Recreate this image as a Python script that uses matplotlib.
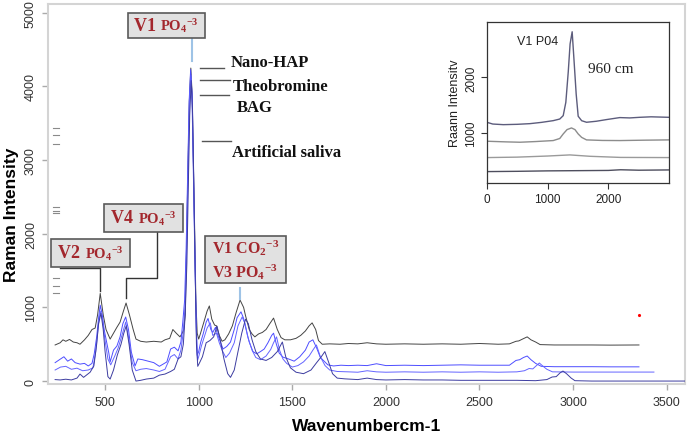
import matplotlib
matplotlib.use("Agg")
import matplotlib.pyplot as plt
from matplotlib.offsetbox import TextArea, HPacker, VPacker, AnnotationBbox
from matplotlib.patches import Rectangle

plt.rcParams['mathtext.fontset'] = 'custom'
plt.rcParams['mathtext.rm'] = 'Liberation Serif:bold'
plt.rcParams['mathtext.it'] = 'Liberation Serif:bold:italic'
plt.rcParams['mathtext.bf'] = 'Liberation Serif:bold'
plt.rcParams['font.family'] = ['Liberation Sans', 'DejaVu Sans']

# ---------------- main spectra ----------------
black_x = [233, 260, 275, 290, 310, 330, 350, 366, 390, 410, 430, 447, 460, 474, 490, 505, 527, 545, 563, 580,
           598, 612, 630, 650, 665, 690, 720, 760, 800, 820, 845, 862, 880, 900, 912, 920, 928, 935, 942, 950,
           958, 965, 972, 979, 985, 992, 1000, 1010, 1030, 1045, 1057, 1070, 1085, 1095, 1110, 1125, 1140, 1160,
           1180, 1200, 1221, 1240, 1250, 1270, 1285, 1300, 1320, 1340, 1360, 1380, 1400, 1420, 1440, 1460,
           1490, 1520, 1545, 1570, 1590, 1606, 1625, 1640, 1660, 1700, 1755, 1800, 1850, 1900, 1950, 2000,
           2100, 2200, 2300, 2400, 2500, 2600, 2660, 2695, 2710, 2730, 2755, 2775, 2800, 2824, 2900, 3000,
           3100, 3200, 3352]
black_y = [490, 520, 560, 540, 565, 530, 520, 500, 560, 620, 700, 720, 900, 1190, 900, 700, 570, 650, 730, 800,
           950, 1060, 900, 700, 570, 540, 530, 540, 530, 560, 580, 700, 650, 600, 650, 700, 900, 1800, 2800, 3800,
           4250, 3900, 2900, 2000, 1100, 650, 570, 650, 820, 950, 1020, 840, 760, 750, 620, 540, 560, 640,
           750, 930, 1100, 1000, 890, 700, 640, 600, 640, 660, 700, 780, 855, 700, 590, 560,
           560, 580, 620, 680, 750, 790, 700, 550, 500, 505, 500, 510, 505, 520, 505, 500,
           505, 500, 505, 500, 510, 500, 505, 540, 545, 570, 600, 560, 530, 495, 490, 490,
           490, 488, 490]

blue1_x = [233, 262, 280, 300, 320, 340, 366, 390, 410, 430, 442, 455, 465, 474, 485, 495, 505, 520, 527, 545,
           563, 580, 595, 610, 625, 640, 660, 675, 700, 730, 760, 790, 810, 830, 850, 870, 890, 905, 915, 925,
           933, 941, 949, 957, 964, 971, 978, 985, 992, 1000, 1010, 1025, 1040, 1050, 1065, 1075, 1090, 1100,
           1115, 1130, 1150, 1170, 1190, 1205, 1226, 1240, 1250, 1270, 1290, 1310, 1330, 1350, 1370, 1390,
           1400, 1415, 1430, 1450, 1480, 1510, 1540, 1570, 1590, 1610, 1630, 1650, 1670, 1690, 1720, 1760,
           1800, 1850, 1900, 1950, 2000, 2100, 2200, 2300, 2400, 2500, 2600, 2660, 2695, 2715, 2735, 2755,
           2775, 2800, 2830, 2900, 3000, 3100, 3200, 3352]
blue1_y = [250, 300, 330, 270, 300, 250, 230, 240, 205, 240, 370, 600, 850, 1030, 900, 700, 570, 380, 260, 420,
           475, 600, 780, 870, 700, 395, 205, 300, 290, 270, 250, 200, 230, 260, 435, 460, 410, 530, 800, 1100,
           1800, 2800, 3800, 4230, 3900, 2900, 1900, 1000, 350, 400, 520, 650, 800, 850, 700, 660, 730, 640,
           540, 435, 470, 530, 700, 860, 940, 850, 735, 530, 400, 370, 400, 435, 520, 620,
           650, 500, 380, 325, 300, 270, 330, 420, 530, 560, 450, 320, 270, 220, 205, 215,
           210, 215, 210, 235, 210, 215, 210, 215, 220, 215, 215, 215, 280, 290, 320, 340,
           290, 240, 200, 195, 195, 195, 193, 193]

blue2_x = [233, 262, 290, 320, 350, 380, 410, 435, 450, 462, 474, 486, 500, 515, 530, 550, 570, 590, 610, 625,
           645, 665, 690, 720, 760, 790, 820, 850, 870, 890, 905, 917, 927, 935, 943, 951, 959, 966, 973, 980,
           987, 994, 1002, 1015, 1030, 1045, 1062, 1075, 1095, 1110, 1125, 1145, 1165, 1190, 1210, 1232, 1248,
           1262, 1285, 1305, 1330, 1360, 1385, 1400, 1416, 1432, 1450, 1470, 1500, 1530, 1560, 1590, 1610,
           1629, 1650, 1675, 1700, 1740, 1800, 1850, 1900, 1950, 2000, 2100, 2200, 2300, 2400, 2500, 2600,
           2700, 2740, 2765, 2785, 2800, 2820, 2840, 2860, 2890, 3000, 3100, 3200, 3300, 3432]
blue2_y = [150, 190, 200, 160, 175, 140, 150, 180, 400, 700, 950, 830, 550, 300, 220, 330, 450, 620, 800, 600,
           250, 140, 160, 170, 150, 130, 160, 330, 360, 300, 420, 650, 1000, 1700, 2800, 3800, 4150, 3800, 2800, 1700,
           700, 280, 350, 480, 600, 720, 790, 620, 650, 520, 420, 320, 380, 520, 750, 870, 780,
           600, 420, 320, 290, 340, 430, 520, 600, 420, 300, 240, 190, 210, 260, 340, 420,
           490, 330, 210, 150, 130, 125, 120, 140, 125, 120, 125, 120, 125, 120, 125, 120,
           125, 140, 170, 165, 200, 245, 200, 160, 125, 122, 122, 122, 122, 122]

blue3_x = [233, 260, 290, 320, 350, 366, 385, 400, 420, 440, 455, 465, 478, 490, 500, 515, 527, 545, 565, 585,
           600, 613, 628, 645, 665, 690, 720, 760, 790, 820, 850, 870, 890, 905, 918, 928, 937, 945, 952, 960,
           967, 974, 981, 988, 995, 1005, 1020, 1040, 1060, 1080, 1098, 1115, 1135, 1155, 1170, 1190, 1210,
           1230, 1250, 1265, 1285, 1305, 1330, 1360, 1390, 1420, 1447, 1465, 1490, 1520, 1560, 1600, 1630,
           1655, 1674, 1695, 1715, 1740, 1780, 1850, 1900, 1950, 2000, 2100, 2200, 2300, 2400, 2500, 2600,
           2700, 2800, 2860, 2888, 2910, 2930, 2946, 2965, 2990, 3010, 3100, 3200, 3300, 3400, 3500, 3600]
blue3_y = [20, 15, 25, 15, 40, 95, 50, 80, 120, 205, 500, 780, 920, 700, 400, 60, 27, 150, 350, 500,
           650, 750, 500, 150, 0, 10, 27, 40, 80, 95, 130, 160, 300, 330, 500, 900, 1600, 2700, 3600, 4080,
           3700, 2700, 1500, 500, 200, 250, 330, 520, 550, 600, 745, 560, 300, 100, 50, 150, 400,
           650, 840, 780, 560, 400, 300, 280, 320, 400, 530, 330, 180, 120, 100, 150, 250,
           330, 400, 250, 100, 40, 30, 20, 40, 20, 15, 20, 15, 15, 10, 10, 10,
           10, 5, 20, 55, 60, 110, 136, 100, 40, 5, 0, 0, 0, 0, 0, 0]

x_ticks = [500, 1000, 1500, 2000, 2500, 3000, 3500]
y_ticks = [0, 1000, 2000, 3000, 4000, 5000]
legend_names = ['Nano-HAP', 'Theobromine', 'BAG', 'Artificial saliva']

# ---------------- inset spectra ----------------
in1_x = [0, 100, 273, 500, 710, 900, 1093, 1200, 1257, 1300, 1340, 1370, 1404, 1435, 1470, 1503, 1560, 1640,
         1800, 1967, 2186, 2350, 2514, 2700, 2995]
in1_y = [1192, 1160, 1149, 1155, 1167, 1190, 1221, 1250, 1311, 1550, 2100, 2600, 2819, 2300, 1700, 1300, 1220,
         1192, 1210, 1240, 1276, 1270, 1281, 1290, 1281]
in2_x = [0, 300, 546, 800, 1093, 1200, 1257, 1320, 1393, 1450, 1503, 1560, 1640, 1900, 2186, 2600, 2995]
in2_y = [851, 840, 833, 845, 863, 900, 982, 1060, 1090, 1060, 982, 920, 875, 865, 863, 870, 875]
in3_x = [0, 500, 1000, 1366, 1700, 2200, 2995]
in3_y = [557, 565, 585, 605, 580, 560, 557]
in4_x = [0, 500, 1000, 1500, 2000, 2200, 2500, 2995]
in4_y = [305, 310, 318, 322, 326, 338, 330, 335]
inset_xticks = [0, 1000, 2000]
inset_yticks = [1000, 2000]

# ---------------- figure ----------------
fig = plt.figure(figsize=(6.92, 4.35), dpi=100)
ax = fig.add_axes([48 / 692, 50 / 435, 637 / 692, 380 / 435])

ax.plot(black_x, black_y, color='#444444', lw=0.7, zorder=2)
ax.plot(blue1_x, blue1_y, color='#4d4dff', lw=0.7, zorder=3)
ax.plot(blue2_x, blue2_y, color='#6464ff', lw=0.7, zorder=3)
ax.plot(blue3_x, blue3_y, color='#3c3ca0', lw=0.7, zorder=3)
ax.plot([3353], [897], marker='.', color='red', ms=2.5, ls='none')

ax.set_xlim(195, 3598)
ax.set_ylim(-40, 5120)
ax.set_xticks(x_ticks)
ax.set_yticks(y_ticks)
ax.set_xticklabels([str(v) for v in x_ticks], fontsize=9, color='#333333')
ax.set_yticklabels([str(v) for v in y_ticks], fontsize=9, color='#333333', rotation=90, va='center')
ax.tick_params(axis='both', length=4, width=1, color='#aaaaaa', direction='out')
ax.tick_params(axis='x', pad=5)
ax.tick_params(axis='y', pad=4)
for s in ax.spines.values():
    s.set_color('#d4d4d4')
    s.set_linewidth(1.5)

fig.text(12 / 692, 1 - 215 / 435, 'Raman Intensity', rotation=90, fontsize=12.5, fontweight='bold',
         ha='center', va='center')
fig.text(367 / 692, 1 - 427 / 435, 'Wavenumbercm-1', fontsize=12.5, fontweight='bold',
         ha='center', va='center')

# small leftover dashes on the left
for yy in [3436, 3341, 3219, 2364, 2309, 2282, 1399, 1291, 1196]:
    ax.plot([222, 255], [yy, yy], color='#8a8a8a', lw=0.8)

# annotation boxes
red = '#a3272d'
box_fc = '#e1e1e1'
box_ec = '#5a5a5a'


def box(x0, x1, y0, y1):
    ax.add_patch(Rectangle((x0, y0), x1 - x0, y1 - y0, transform=ax.transData, fc=box_fc, ec=box_ec,
                           lw=1.2, clip_on=False, zorder=5))


def label(parts, xc, yc):
    rows = []
    for row in parts:
        areas = [TextArea(t, textprops=dict(color=red, fontsize=fs, family='Liberation Serif',
                                            fontweight='bold')) for t, fs in row]
        rows.append(HPacker(children=areas, align='baseline', pad=0, sep=0))
    pack = VPacker(children=rows, align='left', pad=0, sep=3) if len(rows) > 1 else rows[0]
    ab = AnnotationBbox(pack, (xc, yc), xycoords='data', frameon=False, box_alignment=(0.5, 0.5),
                        annotation_clip=False, zorder=6)
    ax.add_artist(ab)


box(623, 1034, 4658, 4999)
label([[('V1 ', 13), ('PO$_4$$^{-3}$', 10.5)]], 828, 4835)
box(495, 917, 2024, 2404)
label([[('V4 ', 13), ('PO$_4$$^{-3}$', 10.5)]], 706, 2220)
box(212, 634, 1549, 1929)
label([[('V2 ', 13), ('PO$_4$$^{-3}$', 10.5)]], 423, 1745)
box(1034, 1467, 1332, 1970)
label([[('V1 CO$_2$$^{-3}$', 11.5)], [('V3 PO$_4$$^{-3}$', 11.5)]], 1250, 1655)

ax.plot([778, 778, 612, 612], [2024, 1399, 1399, 1128], color='#333333', lw=1, clip_on=False)
ax.plot([260, 473, 473], [1535, 1535, 1223], color='#333333', lw=1, clip_on=False)
ax.plot([965, 965], [4658, 4346], color='#9ec3e6', lw=1.5)
ax.plot([1222, 1222], [1264, 1114], color='#9ec3e6', lw=1.5)

# sample labels
leg_lines = [(1008, 1136, 4251), (1008, 1168, 4088), (1008, 1163, 3884), (1018, 1173, 3260)]
leg_text = [(1173, 4333), (1184, 4007), (1205, 3722), (1179, 3110)]
for (a, b, yy), (tx, ty), name in zip(leg_lines, leg_text, legend_names):
    ax.plot([a, b], [yy, yy], color='#555555', lw=1)
    ax.text(tx, ty, name, family='Liberation Serif', fontweight='bold', fontsize=12,
            ha='left', va='center', color='#111111')

# ---------------- inset ----------------
ax2 = fig.add_axes([486.7 / 692, (435 - 184) / 435, 182.6 / 692, 161.3 / 435])
ax2.plot(in1_x, in1_y, color='#5c5c7c', lw=1.0)
ax2.plot(in2_x, in2_y, color='#8c8c8c', lw=1.0)
ax2.plot(in3_x, in3_y, color='#9a9a9a', lw=1.0)
ax2.plot(in4_x, in4_y, color='#4e4e5e', lw=1.0)
ax2.set_xlim(0, 3000)
ax2.set_ylim(100, 3000)
ax2.set_xticks(inset_xticks)
ax2.set_yticks(inset_yticks)
ax2.set_xticklabels([str(v) for v in inset_xticks], fontsize=8.5, color='#222222')
ax2.set_yticklabels([str(v) for v in inset_yticks], fontsize=8.5, color='#222222', rotation=90, va='center')
ax2.tick_params(length=4, width=0.8, color='#333333', pad=3)
for s in ax2.spines.values():
    s.set_color('#333333')
    s.set_linewidth(0.9)
ax2.set_ylabel('Raann Intensitv', fontsize=9, labelpad=3, color='#222222')
ax2.text(497, 2652, 'V1 P04', fontsize=9, ha='left', va='center', color='#222222')
ax2.text(1663, 2162, '960 cm', family='Liberation Serif', fontsize=11, ha='left', va='center', color='#222222')

fig.savefig('out.png', dpi=100)
